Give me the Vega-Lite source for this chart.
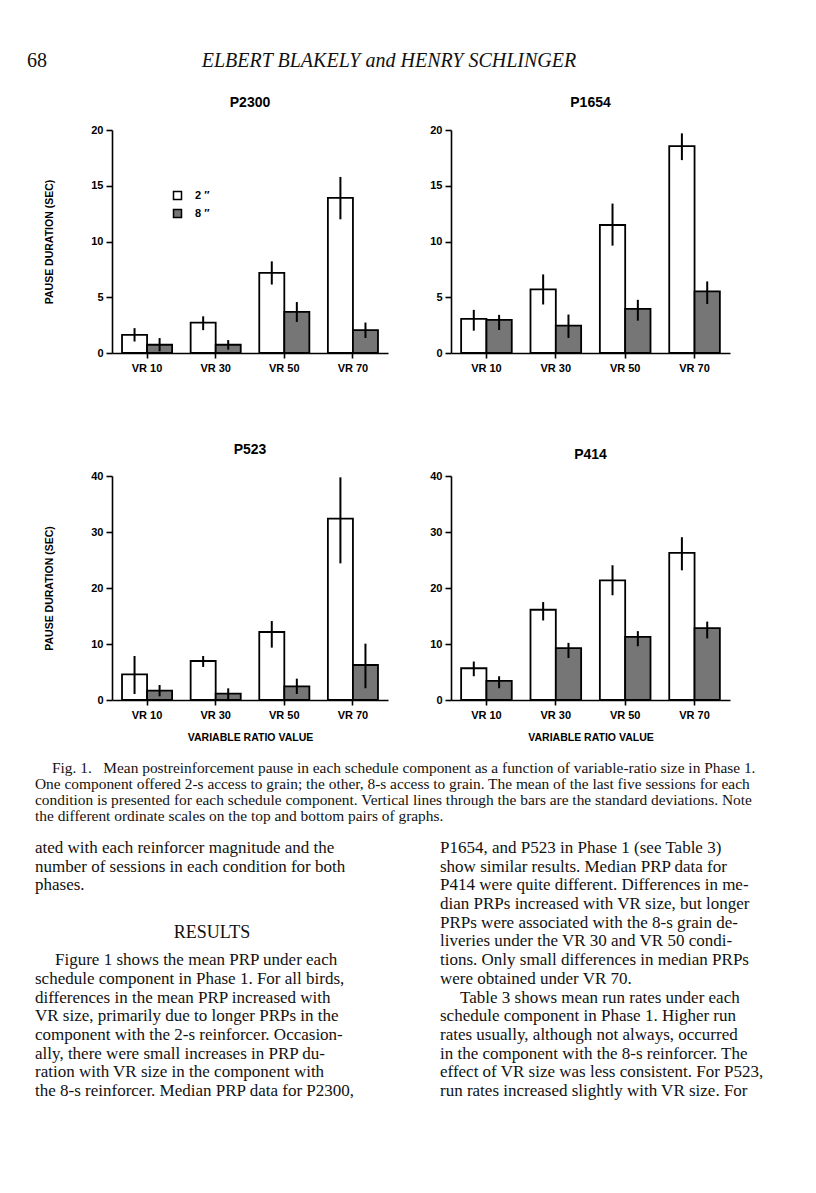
{
  "$schema": "https://vega.github.io/schema/vega-lite/v6.json",
  "background": "white",
  "padding": {"left": 27, "top": 50, "right": 0, "bottom": 0},
  "autosize": {"type": "pad"},
  "config": {
    "view": {"stroke": null},
    "font": "Liberation Sans",
    "title": {"font": "Liberation Sans", "fontSize": 14, "fontWeight": "bold", "color": "black"},
    "axis": {
      "grid": false, "domainColor": "black", "domainWidth": 1.6, "tickColor": "black", "tickWidth": 1.6,
      "labelFont": "Liberation Sans", "labelFontWeight": "bold", "labelFontSize": 11, "labelColor": "black",
      "titleFont": "Liberation Sans", "titleFontWeight": "bold", "titleFontSize": 10.5, "titleColor": "black"
    },
    "axisX": {"tickSize": 5, "labelPadding": 4, "titlePadding": 12, "labelAngle": 0},
    "axisY": {"tickSize": 6, "labelPadding": 3, "titlePadding": 36},
    "legend": {"labelFont": "Liberation Sans", "labelFontWeight": "bold", "labelFontSize": 11, "labelColor": "black"}
  },
  "datasets": {
    "prp": [
      {"bird": "P2300", "vr": "VR 10", "size": "2 ″", "mean": 1.63, "lo": 1.03, "hi": 2.23},
      {"bird": "P2300", "vr": "VR 10", "size": "8 ″", "mean": 0.74, "lo": 0.15, "hi": 1.34},
      {"bird": "P2300", "vr": "VR 30", "size": "2 ″", "mean": 2.73, "lo": 2.05, "hi": 3.29},
      {"bird": "P2300", "vr": "VR 30", "size": "8 ″", "mean": 0.74, "lo": 0.3, "hi": 1.16},
      {"bird": "P2300", "vr": "VR 50", "size": "2 ″", "mean": 7.18, "lo": 6.14, "hi": 8.22},
      {"bird": "P2300", "vr": "VR 50", "size": "8 ″", "mean": 3.68, "lo": 2.79, "hi": 4.57},
      {"bird": "P2300", "vr": "VR 70", "size": "2 ″", "mean": 13.92, "lo": 11.99, "hi": 15.79},
      {"bird": "P2300", "vr": "VR 70", "size": "8 ″", "mean": 2.05, "lo": 1.35, "hi": 2.73},
      {"bird": "P1654", "vr": "VR 10", "size": "2 ″", "mean": 3.06, "lo": 2.0, "hi": 3.87},
      {"bird": "P1654", "vr": "VR 10", "size": "8 ″", "mean": 2.97, "lo": 2.07, "hi": 3.42},
      {"bird": "P1654", "vr": "VR 30", "size": "2 ″", "mean": 5.7, "lo": 4.35, "hi": 7.05},
      {"bird": "P1654", "vr": "VR 30", "size": "8 ″", "mean": 2.46, "lo": 1.35, "hi": 3.45},
      {"bird": "P1654", "vr": "VR 50", "size": "2 ″", "mean": 11.48, "lo": 9.63, "hi": 13.4},
      {"bird": "P1654", "vr": "VR 50", "size": "8 ″", "mean": 3.96, "lo": 2.9, "hi": 4.77},
      {"bird": "P1654", "vr": "VR 70", "size": "2 ″", "mean": 18.56, "lo": 17.3, "hi": 19.7},
      {"bird": "P1654", "vr": "VR 70", "size": "8 ″", "mean": 5.52, "lo": 4.4, "hi": 6.42},
      {"bird": "P523", "vr": "VR 10", "size": "2 ″", "mean": 4.58, "lo": 1.07, "hi": 7.86},
      {"bird": "P523", "vr": "VR 10", "size": "8 ″", "mean": 1.67, "lo": 0.66, "hi": 2.68},
      {"bird": "P523", "vr": "VR 30", "size": "2 ″", "mean": 6.96, "lo": 5.9, "hi": 7.86},
      {"bird": "P523", "vr": "VR 30", "size": "8 ″", "mean": 1.13, "lo": 0.18, "hi": 2.08},
      {"bird": "P523", "vr": "VR 50", "size": "2 ″", "mean": 12.14, "lo": 9.35, "hi": 14.1},
      {"bird": "P523", "vr": "VR 50", "size": "8 ″", "mean": 2.44, "lo": 1.07, "hi": 3.81},
      {"bird": "P523", "vr": "VR 70", "size": "2 ″", "mean": 32.38, "lo": 24.4, "hi": 39.76},
      {"bird": "P523", "vr": "VR 70", "size": "8 ″", "mean": 6.25, "lo": 2.1, "hi": 10.06},
      {"bird": "P414", "vr": "VR 10", "size": "2 ″", "mean": 5.67, "lo": 4.24, "hi": 6.87},
      {"bird": "P414", "vr": "VR 10", "size": "8 ″", "mean": 3.4, "lo": 2.1, "hi": 4.24},
      {"bird": "P414", "vr": "VR 30", "size": "2 ″", "mean": 16.12, "lo": 14.2, "hi": 17.49},
      {"bird": "P414", "vr": "VR 30", "size": "8 ″", "mean": 9.25, "lo": 7.5, "hi": 10.2},
      {"bird": "P414", "vr": "VR 50", "size": "2 ″", "mean": 21.37, "lo": 18.7, "hi": 24.06},
      {"bird": "P414", "vr": "VR 50", "size": "8 ″", "mean": 11.28, "lo": 9.6, "hi": 12.3},
      {"bird": "P414", "vr": "VR 70", "size": "2 ″", "mean": 26.27, "lo": 23.16, "hi": 29.07},
      {"bird": "P414", "vr": "VR 70", "size": "8 ″", "mean": 12.84, "lo": 11.0, "hi": 14.0}
    ]
  },
  "bounds": "flush",
  "columns": 3,
  "spacing": {"row": 0, "column": 63},
  "resolve": {"scale": {"x": "independent", "y": "independent", "fill": "independent", "xOffset": "independent"}, "legend": {"fill": "independent"}},
  "concat": [
    {
      "width": 22, "height": 79,
      "data": {"values": [{"k": "page", "line": 0, "t": "68"}, {"k": "title", "line": 0, "t": "ELBERT BLAKELY and HENRY SCHLINGER"}]},
      "encoding": {
        "x": {"field": "k", "type": "nominal", "scale": {"type": "point", "domain": ["page", "title"], "range": [0, 362], "padding": 0}, "axis": null},
        "y": {"field": "line", "type": "quantitative", "scale": {"domain": [-0.5, 3.45], "reverse": true, "nice": false, "zero": false}, "axis": null},
        "text": {"field": "t"}
      },
      "layer": [
        {"transform": [{"filter": "datum.k === 'page'"}], "mark": {"type": "text", "align": "left", "font": "Liberation Serif", "fontSize": 20, "color": "#111"}},
        {"transform": [{"filter": "datum.k === 'title'"}], "mark": {"type": "text", "align": "center", "font": "Liberation Serif", "fontSize": 20, "fontStyle": "italic", "color": "#111"}}
      ]
    },
    {"width": 1, "height": 1, "data": {"values": []}, "mark": "point"},
    {"width": 1, "height": 1, "data": {"values": []}, "mark": "point"},
    {"width": 22, "height": 1, "data": {"values": []}, "mark": "point"},
    {
      "width": 276, "height": 223,
      "title": {"text": "P2300", "offset": 14},
      "data": {"name": "prp"},
      "transform": [{"filter": "datum.bird === 'P2300'"}],
      "encoding": {
        "x": {"field": "vr", "type": "nominal", "sort": ["VR 10", "VR 30", "VR 50", "VR 70"], "scale": {"paddingInner": 0.27, "paddingOuter": 0.146}, "axis": {"title": null}},
        "xOffset": {"field": "size", "type": "nominal", "sort": ["2 ″", "8 ″"], "scale": {"paddingInner": 0, "paddingOuter": 0}}
      },
      "layer": [
        {
          "mark": {"type": "bar", "stroke": "black", "strokeWidth": 1.8},
          "encoding": {
            "y": {"field": "mean", "type": "quantitative", "title": "PAUSE DURATION (SEC)", "scale": {"domain": [0, 20]}, "axis": {"values": [0, 5, 10, 15, 20]}},
            "fill": {"field": "size", "type": "nominal", "scale": {"domain": ["2 ″", "8 ″"], "range": ["#ffffff", "#767676"]},
              "legend": {"orient": "top-left", "offset": 60, "title": null, "symbolType": "square", "symbolSize": 64, "symbolStrokeColor": "black", "symbolStrokeWidth": 1.5, "labelOffset": 12, "padding": 0, "rowPadding": 3}}
          }
        },
        {
          "mark": {"type": "rule", "color": "black", "strokeWidth": 2},
          "encoding": {
            "y": {"field": "lo", "type": "quantitative", "title": "PAUSE DURATION (SEC)", "scale": {"domain": [0, 20]}, "axis": {"values": [0, 5, 10, 15, 20]}},
            "y2": {"field": "hi"}
          }
        }
      ]
    },
    {
      "width": 279, "height": 223,
      "title": {"text": "P1654", "offset": 14},
      "data": {"name": "prp"},
      "transform": [{"filter": "datum.bird === 'P1654'"}],
      "encoding": {
        "x": {"field": "vr", "type": "nominal", "sort": ["VR 10", "VR 30", "VR 50", "VR 70"], "scale": {"paddingInner": 0.27, "paddingOuter": 0.146}, "axis": {"title": null}},
        "xOffset": {"field": "size", "type": "nominal", "sort": ["2 ″", "8 ″"], "scale": {"paddingInner": 0, "paddingOuter": 0}}
      },
      "layer": [
        {
          "mark": {"type": "bar", "stroke": "black", "strokeWidth": 1.8},
          "encoding": {
            "y": {"field": "mean", "type": "quantitative", "title": null, "scale": {"domain": [0, 20]}, "axis": {"values": [0, 5, 10, 15, 20]}},
            "fill": {"field": "size", "type": "nominal", "scale": {"domain": ["2 ″", "8 ″"], "range": ["#ffffff", "#767676"]}, "legend": null}
          }
        },
        {
          "mark": {"type": "rule", "color": "black", "strokeWidth": 2},
          "encoding": {
            "y": {"field": "lo", "type": "quantitative", "title": null, "scale": {"domain": [0, 20]}, "axis": {"values": [0, 5, 10, 15, 20]}},
            "y2": {"field": "hi"}
          }
        }
      ]
    },
    {"width": 22, "height": 123, "data": {"values": []}, "mark": "point"},
    {"width": 1, "height": 1, "data": {"values": []}, "mark": "point"},
    {"width": 1, "height": 1, "data": {"values": []}, "mark": "point"},
    {"width": 22, "height": 1, "data": {"values": []}, "mark": "point"},
    {
      "width": 276, "height": 224,
      "title": {"text": "P523", "offset": 13},
      "data": {"name": "prp"},
      "transform": [{"filter": "datum.bird === 'P523'"}],
      "encoding": {
        "x": {"field": "vr", "type": "nominal", "sort": ["VR 10", "VR 30", "VR 50", "VR 70"], "scale": {"paddingInner": 0.27, "paddingOuter": 0.146}, "axis": {"title": "VARIABLE RATIO VALUE"}},
        "xOffset": {"field": "size", "type": "nominal", "sort": ["2 ″", "8 ″"], "scale": {"paddingInner": 0, "paddingOuter": 0}}
      },
      "layer": [
        {
          "mark": {"type": "bar", "stroke": "black", "strokeWidth": 1.8},
          "encoding": {
            "y": {"field": "mean", "type": "quantitative", "title": "PAUSE DURATION (SEC)", "scale": {"domain": [0, 40]}, "axis": {"values": [0, 10, 20, 30, 40]}},
            "fill": {"field": "size", "type": "nominal", "scale": {"domain": ["2 ″", "8 ″"], "range": ["#ffffff", "#767676"]}, "legend": null}
          }
        },
        {
          "mark": {"type": "rule", "color": "black", "strokeWidth": 2},
          "encoding": {
            "y": {"field": "lo", "type": "quantitative", "title": "PAUSE DURATION (SEC)", "scale": {"domain": [0, 40]}, "axis": {"values": [0, 10, 20, 30, 40]}},
            "y2": {"field": "hi"}
          }
        }
      ]
    },
    {
      "width": 279, "height": 224,
      "title": {"text": "P414", "offset": 8},
      "data": {"name": "prp"},
      "transform": [{"filter": "datum.bird === 'P414'"}],
      "encoding": {
        "x": {"field": "vr", "type": "nominal", "sort": ["VR 10", "VR 30", "VR 50", "VR 70"], "scale": {"paddingInner": 0.27, "paddingOuter": 0.146}, "axis": {"title": "VARIABLE RATIO VALUE"}},
        "xOffset": {"field": "size", "type": "nominal", "sort": ["2 ″", "8 ″"], "scale": {"paddingInner": 0, "paddingOuter": 0}}
      },
      "layer": [
        {
          "mark": {"type": "bar", "stroke": "black", "strokeWidth": 1.8},
          "encoding": {
            "y": {"field": "mean", "type": "quantitative", "title": null, "scale": {"domain": [0, 40]}, "axis": {"values": [0, 10, 20, 30, 40]}},
            "fill": {"field": "size", "type": "nominal", "scale": {"domain": ["2 ″", "8 ″"], "range": ["#ffffff", "#767676"]}, "legend": null}
          }
        },
        {
          "mark": {"type": "rule", "color": "black", "strokeWidth": 2},
          "encoding": {
            "y": {"field": "lo", "type": "quantitative", "title": null, "scale": {"domain": [0, 40]}, "axis": {"values": [0, 10, 20, 30, 40]}},
            "y2": {"field": "hi"}
          }
        }
      ]
    },
    {
      "width": 22, "height": 401,
      "encoding": {
        "x": {"field": "col", "type": "nominal", "scale": {"type": "point", "domain": ["L", "R"], "range": [8, 413], "padding": 0}, "axis": null},
        "text": {"field": "t"}
      },
      "resolve": {"scale": {"y": "independent"}},
      "layer": [
        {
          "data": {"values": [
            {"col": "L", "line": 0, "kind": "ind", "t": "Fig. 1.\u2002 Mean postreinforcement pause in each schedule component as a function of variable-ratio size in Phase 1."},
            {"col": "L", "line": 1, "kind": "p", "t": "One component offered 2-s access to grain; the other, 8-s access to grain. The mean of the last five sessions for each"},
            {"col": "L", "line": 2, "kind": "p", "t": "condition is presented for each schedule component. Vertical lines through the bars are the standard deviations. Note"},
            {"col": "L", "line": 3, "kind": "p", "t": "the different ordinate scales on the top and bottom pairs of graphs."}
          ]},
          "encoding": {
            "y": {"field": "line", "type": "quantitative", "scale": {"domain": [-4.25, 20.8125], "reverse": true, "nice": false, "zero": false}, "axis": null}
          },
          "layer": [
            {"transform": [{"filter": "datum.kind === 'p'"}], "mark": {"type": "text", "align": "left", "font": "Liberation Serif", "fontSize": 15.4, "color": "#111"}},
            {"transform": [{"filter": "datum.kind === 'ind'"}], "mark": {"type": "text", "align": "left", "dx": 17, "font": "Liberation Serif", "fontSize": 15.4, "color": "#111"}}
          ]
        },
        {
          "data": {"values": [
            {"col": "L", "line": 0, "kind": "p", "t": "ated with each reinforcer magnitude and the"},
            {"col": "L", "line": 1, "kind": "p", "t": "number of sessions in each condition for both"},
            {"col": "L", "line": 2, "kind": "p", "t": "phases."},
            {"col": "L", "line": 4, "kind": "head", "t": "RESULTS"},
            {"col": "L", "line": 6, "kind": "ind", "t": "Figure 1 shows the mean PRP under each"},
            {"col": "L", "line": 7, "kind": "p", "t": "schedule component in Phase 1. For all birds,"},
            {"col": "L", "line": 8, "kind": "p", "t": "differences in the mean PRP increased with"},
            {"col": "L", "line": 9, "kind": "p", "t": "VR size, primarily due to longer PRPs in the"},
            {"col": "L", "line": 10, "kind": "p", "t": "component with the 2-s reinforcer. Occasion-"},
            {"col": "L", "line": 11, "kind": "p", "t": "ally, there were small increases in PRP du-"},
            {"col": "L", "line": 12, "kind": "p", "t": "ration with VR size in the component with"},
            {"col": "L", "line": 13, "kind": "p", "t": "the 8-s reinforcer. Median PRP data for P2300,"},
            {"col": "R", "line": 0, "kind": "p", "t": "P1654, and P523 in Phase 1 (see Table 3)"},
            {"col": "R", "line": 1, "kind": "p", "t": "show similar results. Median PRP data for"},
            {"col": "R", "line": 2, "kind": "p", "t": "P414 were quite different. Differences in me-"},
            {"col": "R", "line": 3, "kind": "p", "t": "dian PRPs increased with VR size, but longer"},
            {"col": "R", "line": 4, "kind": "p", "t": "PRPs were associated with the 8-s grain de-"},
            {"col": "R", "line": 5, "kind": "p", "t": "liveries under the VR 30 and VR 50 condi-"},
            {"col": "R", "line": 6, "kind": "p", "t": "tions. Only small differences in median PRPs"},
            {"col": "R", "line": 7, "kind": "p", "t": "were obtained under VR 70."},
            {"col": "R", "line": 8, "kind": "ind", "t": "Table 3 shows mean run rates under each"},
            {"col": "R", "line": 9, "kind": "p", "t": "schedule component in Phase 1. Higher run"},
            {"col": "R", "line": 10, "kind": "p", "t": "rates usually, although not always, occurred"},
            {"col": "R", "line": 11, "kind": "p", "t": "in the component with the 8-s reinforcer. The"},
            {"col": "R", "line": 12, "kind": "p", "t": "effect of VR size was less consistent. For P523,"},
            {"col": "R", "line": 13, "kind": "p", "t": "run rates increased slightly with VR size. For"}
          ]},
          "encoding": {
            "y": {"field": "line", "type": "quantitative", "scale": {"domain": [-7.9144, 13.5294], "reverse": true, "nice": false, "zero": false}, "axis": null}
          },
          "layer": [
            {"transform": [{"filter": "datum.kind === 'p'"}], "mark": {"type": "text", "align": "left", "font": "Liberation Serif", "fontSize": 17, "color": "#111"}},
            {"transform": [{"filter": "datum.kind === 'ind'"}], "mark": {"type": "text", "align": "left", "dx": 20, "font": "Liberation Serif", "fontSize": 17, "color": "#111"}},
            {"transform": [{"filter": "datum.kind === 'head'"}], "mark": {"type": "text", "align": "center", "dx": 177, "dy": 10, "font": "Liberation Serif", "fontSize": 18, "color": "#111"}}
          ]
        }
      ]
    },
    {"width": 1, "height": 1, "data": {"values": []}, "mark": "point"},
    {"width": 1, "height": 1, "data": {"values": []}, "mark": "point"}
  ]
}
